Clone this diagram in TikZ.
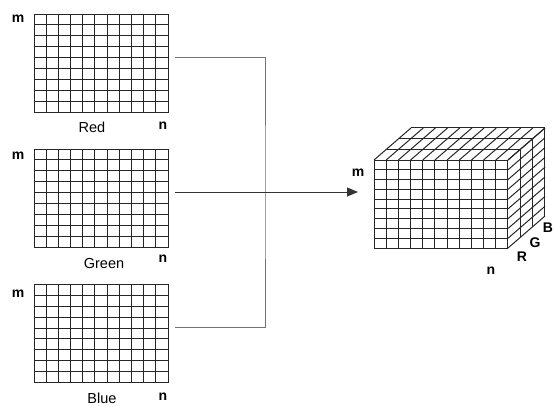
\documentclass[tikz,border=0pt]{standalone}
\usepackage{fontspec}
\setmainfont{Liberation Sans}
\usetikzlibrary{calc,arrows.meta}

\tikzset{
  plane/.style={draw=black!85, line width=1pt, minimum width=134pt, minimum height=98pt, inner sep=0pt, outer sep=0pt},
  cell/.style={draw=black!85, line width=1pt},
  conn/.style={draw=black!55, line width=1pt},
  lab/.style={font=\fontsize{14}{16}\selectfont\bfseries, inner sep=0pt},
  chname/.style={font=\fontsize{14.5}{16}\selectfont, inner sep=0pt}
}

\begin{document}
\begin{tikzpicture}[x=1pt, y=-1pt]
    \useasboundingbox (0,0) rectangle (554,405);

    \node[plane] (red) at (101,63) {};
    \node[plane] (green) at (101,198) {};
    \node[plane] (blue) at (101,333.5) {};

    % 格子を描く
    \foreach \p in {red,green,blue}{
      \foreach \i in {1,...,10}
        \draw[cell] ($(\p.north west)!\i/11!(\p.north east)$) -- ($(\p.south west)!\i/11!(\p.south east)$);
      \foreach \j in {1,...,8}
        \draw[cell] ($(\p.north west)!\j/9!(\p.south west)$) -- ($(\p.north east)!\j/9!(\p.south east)$);
    }

    % 文字を入れる
    \node[lab] (m1) at (18,19) {m};
    \node[lab] (m2) at (18,156) {m};
    \node[lab] (m3) at (18,294) {m};
    \node[lab] (n1) at (163,126) {n};
    \node[lab] (n2) at (163,259) {n};
    \node[lab] (n3) at (163,397) {n};
    \node[chname] (tr) at (92,127) {Red};
    \node[chname] (tg) at (104,264) {Green};
    \node[chname] (tb) at (102,398) {Blue};

    % 線を引く
    \coordinate (join) at (265,192);
    \coordinate (tip) at (358,192);
    \draw[conn] ([shift={(7pt,6pt)}]red.east) -| (join) |- ([shift={(7pt,6pt)}]blue.east);
    \draw[conn, -{Triangle[length=11pt,width=9pt]}, black!80] ([shift={(7pt,6pt)}]green.east) -- (tip);

    % 立方体 前面
    \foreach \i in {0,...,11}
      \draw[cell] (374+\i*12.18,160) -- (374+\i*12.18,248);
    \foreach \j in {0,...,9}
      \draw[cell] (374,160+\j*9.78) -- (508,160+\j*9.78);
    % 上面
    \foreach \i in {0,...,11}
      \draw[cell] (374+\i*12.18,160) -- ++(37,-32);
    \foreach \k in {1,2,3}
      \draw[cell] (374+\k*12.33,160-\k*10.67) -- ++(134,0);
    % 側面
    \foreach \j in {0,...,9}
      \draw[cell] (508,160+\j*9.78) -- ++(37,-32);
    \foreach \k in {1,2,3}
      \draw[cell] (508+\k*12.33,160-\k*10.67) -- ++(0,88);

    \node[lab] (mc) at (358,173) {m};
    \node[lab] (nc) at (491,271) {n};
    \node[lab] (lr) at (522,257) {R};
    \node[lab] (lg) at (535,243) {G};
    \node[lab] (lb) at (548,228) {B};

\end{tikzpicture}
\end{document}
